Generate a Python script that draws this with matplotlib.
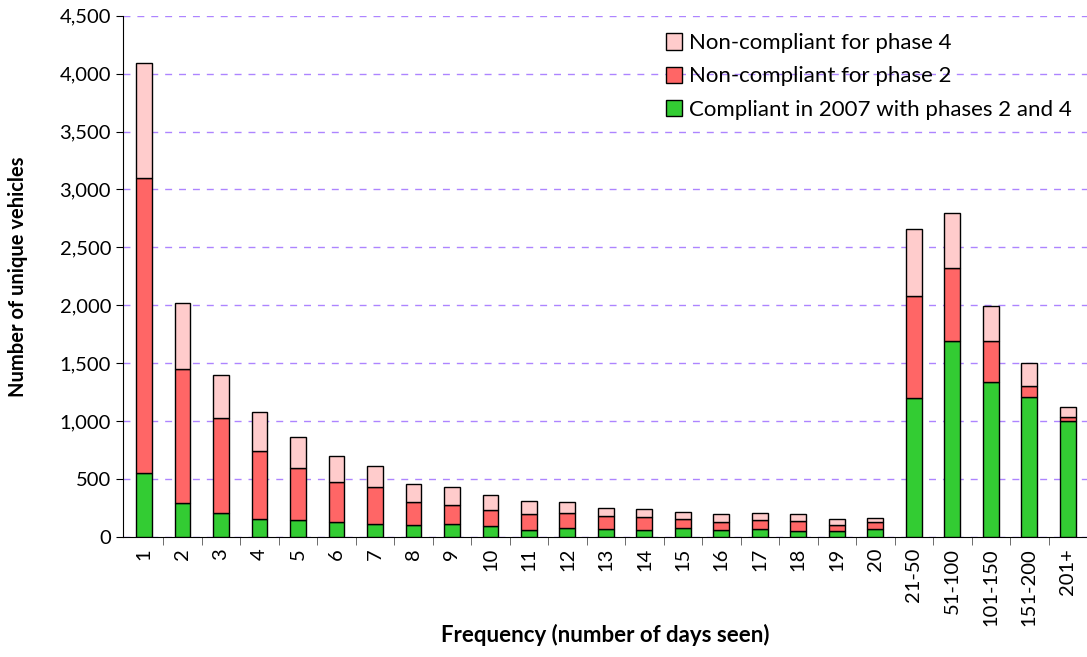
import numpy as np
import matplotlib
matplotlib.use("Agg")
import matplotlib.pyplot as plt
from matplotlib.ticker import FuncFormatter, MultipleLocator

plt.rcParams['font.family'] = ['Lato', 'DejaVu Sans']

categories = ['1', '2', '3', '4', '5', '6', '7', '8', '9', '10',
              '11', '12', '13', '14', '15', '16', '17', '18', '19', '20',
              '21-50', '51-100', '101-150', '151-200', '201+']

# cumulative tops, turned into segment heights below
compliant = [550, 290, 205, 155, 144, 124, 112, 100, 110, 89,
             60, 78, 66, 55, 75, 60, 69, 52, 52, 66,
             1200, 1687, 1338, 1211, 999]
top_phase2 = [3095, 1453, 1022, 737, 590, 475, 426, 302, 274, 233,
              193, 207, 181, 170, 150, 127, 147, 132, 104, 127,
              2081, 2320, 1695, 1298, 1036]
top_phase4 = [4090, 2018, 1396, 1077, 861, 700, 607, 458, 426, 365,
              305, 302, 250, 244, 210, 196, 205, 196, 153, 158,
              2662, 2798, 1992, 1505, 1120]

compliant = np.array(compliant)
noncomp2 = np.array(top_phase2) - compliant
noncomp4 = np.array(top_phase4) - np.array(top_phase2)

fig = plt.figure(figsize=(10.87, 6.57), dpi=100)
ax = fig.add_axes([0.113, 0.183, 0.887, 0.793])

x = np.arange(len(categories))
w = 0.41
ax.bar(x, compliant, w, color='#33CC33', edgecolor='black', linewidth=1,
       label='Compliant in 2007 with phases 2 and 4', zorder=3)
ax.bar(x, noncomp2, w, bottom=compliant, color='#FF6666', edgecolor='black',
       linewidth=1, label='Non-compliant for phase 2', zorder=3)
ax.bar(x, noncomp4, w, bottom=compliant + noncomp2, color='#FFCCCC',
       edgecolor='black', linewidth=1, label='Non-compliant for phase 4', zorder=3)

ax.set_xlim(-0.55, len(categories) - 0.5)
ax.set_ylim(0, 4500)
ax.yaxis.set_major_locator(MultipleLocator(500))
ax.yaxis.set_major_formatter(FuncFormatter(lambda v, p: f'{int(v):,}'))
ax.yaxis.grid(True, color='#9966FF', linestyle=(0, (5, 5)), linewidth=1, alpha=0.8)
ax.set_axisbelow(True)

ax.set_xticks(x)
ax.set_xticklabels(categories, rotation=90, fontsize=14.5)
ax.set_xticks(np.arange(len(categories)) + 0.5, minor=True)
ax.tick_params(axis='x', which='major', length=0, pad=8)
ax.tick_params(axis='x', which='minor', length=6, color='#555555')
ax.tick_params(axis='y', labelsize=14.5, length=5)

for s in ['top', 'right']:
    ax.spines[s].set_visible(False)

ax.set_ylabel('Number of unique vehicles', fontsize=14.5, fontweight='bold', labelpad=8)
ax.yaxis.set_label_coords(-0.098, 0.5)
ax.set_xlabel('Frequency (number of days seen)', fontsize=16, fontweight='bold')
ax.xaxis.set_label_coords(0.5, -0.168)

handles, labels = ax.get_legend_handles_labels()
ax.legend(handles[::-1], labels[::-1], loc='upper right', frameon=False,
          fontsize=16, handlelength=0.75, handleheight=0.75, handletextpad=0.3,
          labelspacing=0.6, bbox_to_anchor=(1.005, 1.005))

fig.savefig('out.png', dpi=100)
